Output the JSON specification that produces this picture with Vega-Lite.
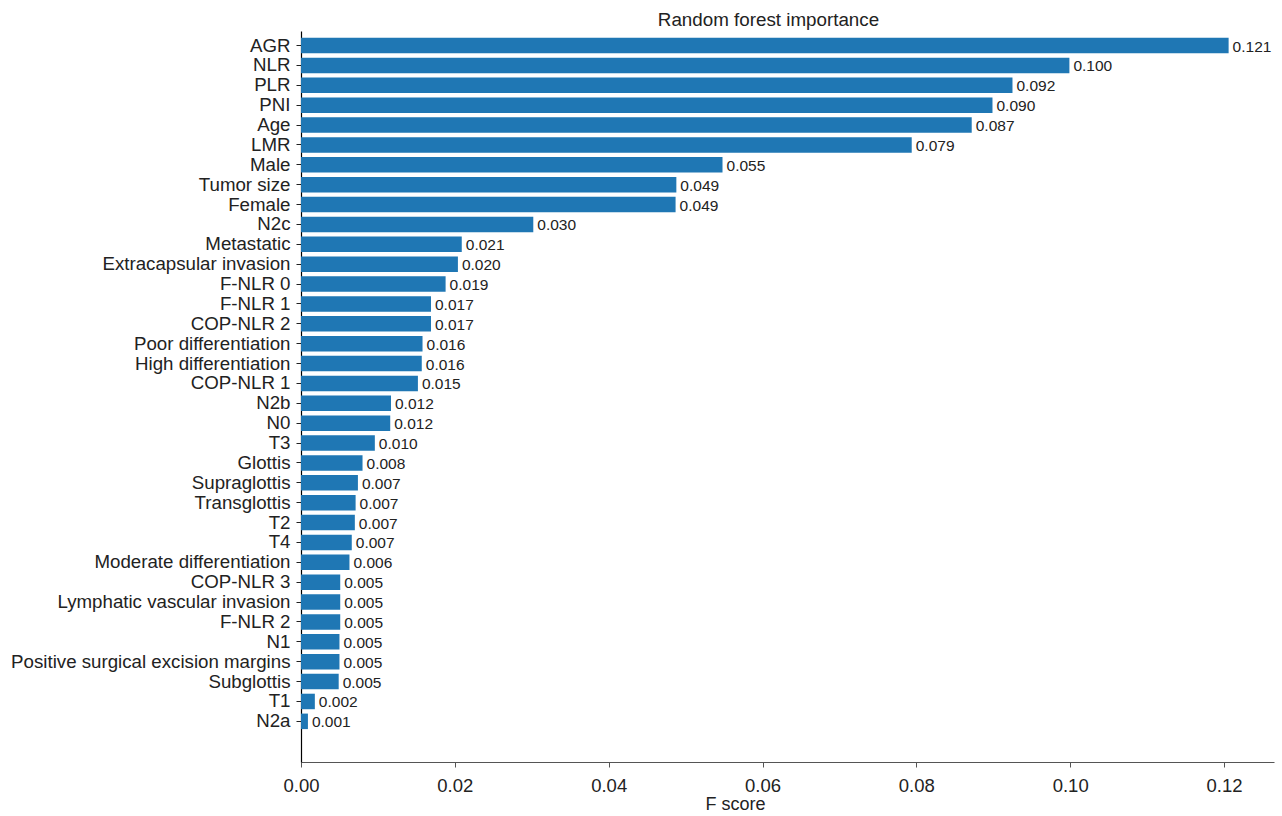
{
  "$schema": "https://vega.github.io/schema/vega-lite/v6.json",
  "autosize": {"type": "none"},
  "padding": {"left": 301, "top": 31, "right": 8, "bottom": 54},
  "width": 973,
  "height": 731,
  "background": "white",
  "config": {
    "view": {"stroke": null},
    "font": "Liberation Sans",
    "text": {"font": "Liberation Sans"}
  },
  "title": {
    "text": "Random forest importance",
    "fontSize": 18.8,
    "fontWeight": "normal",
    "color": "#222222",
    "font": "Liberation Sans",
    "offset": 1,
    "dx": -19
  },
  "data": {
    "values": [
      {"feature": "AGR", "score": 0.1206},
      {"feature": "NLR", "score": 0.0999},
      {"feature": "PLR", "score": 0.0925},
      {"feature": "PNI", "score": 0.0899},
      {"feature": "Age", "score": 0.0872},
      {"feature": "LMR", "score": 0.0794},
      {"feature": "Male", "score": 0.0548},
      {"feature": "Tumor size", "score": 0.0488},
      {"feature": "Female", "score": 0.0487},
      {"feature": "N2c", "score": 0.0302},
      {"feature": "Metastatic", "score": 0.0209},
      {"feature": "Extracapsular invasion", "score": 0.0204},
      {"feature": "F-NLR 0", "score": 0.0188},
      {"feature": "F-NLR 1", "score": 0.0169},
      {"feature": "COP-NLR 2", "score": 0.0169},
      {"feature": "Poor differentiation", "score": 0.0158},
      {"feature": "High differentiation", "score": 0.0157},
      {"feature": "COP-NLR 1", "score": 0.0152},
      {"feature": "N2b", "score": 0.0117},
      {"feature": "N0", "score": 0.0116},
      {"feature": "T3", "score": 0.0096},
      {"feature": "Glottis", "score": 0.0080},
      {"feature": "Supraglottis", "score": 0.0074},
      {"feature": "Transglottis", "score": 0.0071},
      {"feature": "T2", "score": 0.0070},
      {"feature": "T4", "score": 0.0066},
      {"feature": "Moderate differentiation", "score": 0.0063},
      {"feature": "COP-NLR 3", "score": 0.0051},
      {"feature": "Lymphatic vascular invasion", "score": 0.0051},
      {"feature": "F-NLR 2", "score": 0.0051},
      {"feature": "N1", "score": 0.0050},
      {"feature": "Positive surgical excision margins", "score": 0.0050},
      {"feature": "Subglottis", "score": 0.0049},
      {"feature": "T1", "score": 0.0018},
      {"feature": "N2a", "score": 0.0009}
    ]
  },
  "encoding": {
    "y": {
      "field": "feature",
      "type": "nominal",
      "sort": null,
      "scale": {"paddingInner": 0.22, "paddingOuter": 1.07, "align": 0.172},
      "axis": {
        "title": null,
        "labelFont": "Liberation Sans",
        "labelFontSize": 18.7,
        "labelColor": "#222222",
        "labelPadding": 6,
        "tickSize": 5,
        "tickColor": "#222222",
        "domainColor": "#000000",
        "domainWidth": 1.2,
        "labelLimit": 400
      }
    },
    "x": {
      "field": "score",
      "type": "quantitative",
      "scale": {"domain": [0, 0.1265], "nice": false, "zero": true},
      "axis": {
        "title": "F score",
        "titleFont": "Liberation Sans",
        "titleFontSize": 18,
        "titleFontWeight": "normal",
        "titleColor": "#222222",
        "titlePadding": 1,
        "titleX": 434,
        "values": [0, 0.02, 0.04, 0.06, 0.08, 0.1, 0.12],
        "format": ".2f",
        "grid": false,
        "labelFlush": false,
        "labelFont": "Liberation Sans",
        "labelFontSize": 18.5,
        "labelColor": "#222222",
        "labelPadding": 9,
        "tickSize": 5,
        "tickColor": "#555555",
        "domainColor": "#555555",
        "domainWidth": 1.2
      }
    }
  },
  "layer": [
    {
      "mark": {"type": "bar", "color": "#1f77b4"}
    },
    {
      "mark": {
        "type": "text",
        "align": "left",
        "baseline": "middle",
        "dx": 4,
        "dy": 1,
        "fontSize": 15.5,
        "color": "#222222",
        "font": "Liberation Sans"
      },
      "encoding": {
        "text": {"field": "score", "type": "quantitative", "format": ".3f"}
      }
    }
  ]
}
